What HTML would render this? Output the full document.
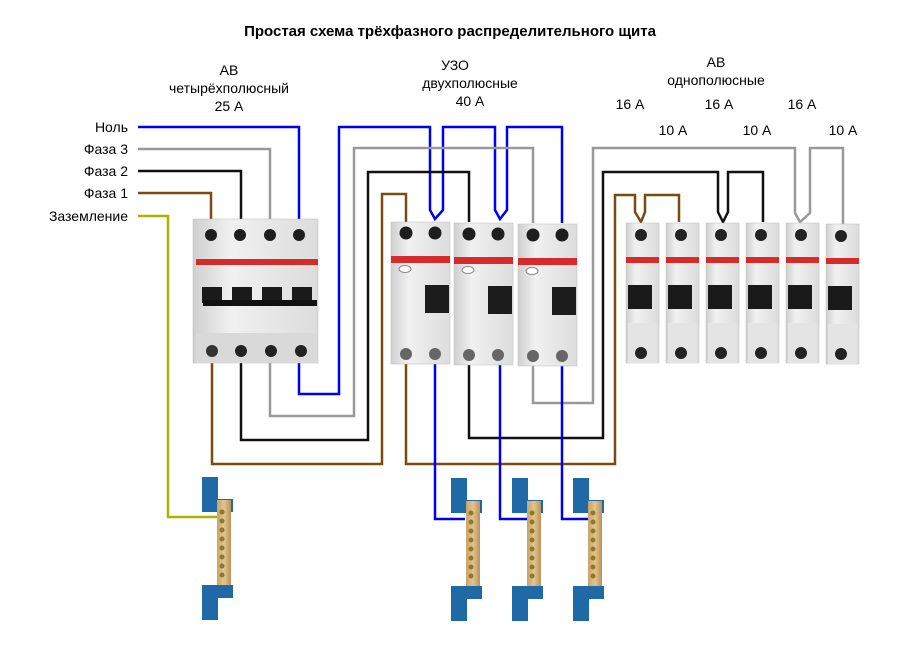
<!DOCTYPE html>
<html><head><meta charset="utf-8"><style>
html,body{margin:0;padding:0;background:#fff;}
svg{display:block;font-family:"Liberation Sans",sans-serif;}
</style></head><body>
<svg width="900" height="648" viewBox="0 0 900 648" xmlns="http://www.w3.org/2000/svg">
<defs>
<linearGradient id="g" x1="0" x2="1"><stop offset="0" stop-color="#cfcfcf"/><stop offset="0.3" stop-color="#f1f1f1"/><stop offset="1" stop-color="#dcdcdc"/></linearGradient>
<linearGradient id="br" x1="0" x2="1"><stop offset="0" stop-color="#c9a36a"/><stop offset="0.5" stop-color="#e3c48e"/><stop offset="1" stop-color="#b8935a"/></linearGradient>
<g id="mcb">
<rect x="0" y="0" width="33" height="140" fill="url(#g)" stroke="#bbb" stroke-width="0.5"/>
<circle cx="15" cy="12" r="6" fill="#222"/>
<rect x="0" y="34" width="33" height="6" fill="#d52b2b"/>
<rect x="2" y="62" width="24" height="24" fill="#1a1a1a"/>
<rect x="2" y="100" width="29" height="40" fill="#e4e4e4"/>
<circle cx="15" cy="130" r="6" fill="#222"/>
</g>
<g id="rcd">
<rect x="0" y="0" width="59" height="142" fill="url(#g)" stroke="#bbb" stroke-width="0.5"/>
<circle cx="15" cy="11" r="6.5" fill="#1e1e1e"/><circle cx="44" cy="11" r="6.5" fill="#1e1e1e"/>
<rect x="0" y="34" width="59" height="7" fill="#d52b2b"/>
<ellipse cx="14" cy="47" rx="6" ry="3.5" fill="#fff" stroke="#888"/>
<rect x="34" y="63" width="24" height="28" fill="#1c1c1c"/>
<circle cx="15" cy="132" r="6" fill="#666"/><circle cx="44" cy="132" r="6" fill="#666"/>
</g>
<g id="bus">
<rect x="0" y="0" width="16" height="35" fill="#1f6aa6"/>
<rect x="0" y="22" width="31" height="13" fill="#1f6aa6"/>
<rect x="15" y="23" width="14" height="98" fill="url(#br)"/>
<g fill="#8a7a2a">
<circle cx="20" cy="35" r="2.5"/><circle cx="20" cy="44" r="2.5"/><circle cx="20" cy="53" r="2.5"/><circle cx="20" cy="62" r="2.5"/><circle cx="20" cy="71" r="2.5"/><circle cx="20" cy="80" r="2.5"/><circle cx="20" cy="89" r="2.5"/><circle cx="20" cy="98" r="2.5"/></g>
<rect x="0" y="108" width="16" height="35" fill="#1f6aa6"/>
<rect x="0" y="108" width="31" height="13" fill="#1f6aa6"/>
</g>
</defs>

<text x="450" y="36" font-size="15" font-weight="bold" text-anchor="middle">Простая схема трёхфазного распределительного щита</text>
<g font-size="14" text-anchor="middle">
<text x="229" y="75">АВ</text><text x="229" y="93">четырёхполюсный</text><text x="229" y="111">25 А</text>
<text x="455" y="70">УЗО</text><text x="470" y="88">двухполюсные</text><text x="470" y="106">40 А</text>
<text x="716" y="67">АВ</text><text x="716" y="85">однополюсные</text>
<text x="630" y="109">16 А</text><text x="719" y="109">16 А</text><text x="802" y="109">16 А</text>
<text x="673" y="135">10 А</text><text x="757" y="135">10 А</text><text x="843" y="135">10 А</text>
</g>
<g font-size="14" text-anchor="end">
<text x="128" y="132">Ноль</text><text x="128" y="154">Фаза 3</text><text x="128" y="176">Фаза 2</text><text x="128" y="198">Фаза 1</text><text x="128" y="221">Заземление</text>
</g>

<g fill="none" stroke-width="2.5">
<polyline stroke="#0000ee" points="138,127 299,127 299,222"/>
<polyline stroke="#999" points="138,149 270,149 270,222"/>
<polyline stroke="#111" points="138,171 241,171 241,222"/>
<polyline stroke="#7a4a10" points="138,193 211,193 211,222"/>
<polyline stroke="#a8b400" points="138,216 168,216 168,517 218,517"/>

<polyline stroke="#0000ee" points="299,360 299,394 339,394 339,127 430,127 430,210 435,219 443,210 443,127 495,127 495,210 500,219 507,210 507,127 562,127 562,223"/>
<polyline stroke="#999" points="270,360 270,416 354,416 354,148 533,148 533,223"/>
<polyline stroke="#999" points="533,360 533,403 593,403 593,148 795,148 795,213 800,222 810,213 810,148 843,148 843,225"/>
<polyline stroke="#111" points="241,360 241,440 368,440 368,172 469,172 469,222"/>
<polyline stroke="#111" points="469,360 469,438 603,438 603,172 718,172 718,212 723,222 728,212 728,172 763,172 763,222"/>
<polyline stroke="#7a4a10" points="212,360 212,464 382,464 382,194 406,194 406,222"/>
<polyline stroke="#7a4a10" points="406,360 406,464 615,464 615,195 635,195 635,212 641,222 645,212 645,195 679,195 679,222"/>
<polyline stroke="#0000ee" points="435,360 435,519 465,519"/>
<polyline stroke="#0000ee" points="500,360 500,519 527,519"/>
<polyline stroke="#0000ee" points="562,360 562,519 588,519"/>
</g>

<g>
<rect x="193" y="219" width="125" height="144" fill="url(#g)" stroke="#bbb" stroke-width="0.5"/>
<circle cx="211" cy="235" r="6" fill="#1e1e1e"/><circle cx="240" cy="235" r="6" fill="#1e1e1e"/><circle cx="270" cy="235" r="6" fill="#1e1e1e"/><circle cx="299" cy="235" r="6" fill="#1e1e1e"/>
<rect x="196" y="259" width="122" height="6" fill="#d52b2b"/>
<rect x="202" y="287" width="20" height="16" fill="#1a1a1a"/><rect x="232" y="287" width="20" height="16" fill="#1a1a1a"/><rect x="262" y="287" width="20" height="16" fill="#1a1a1a"/><rect x="292" y="287" width="20" height="16" fill="#1a1a1a"/>
<rect x="203" y="300" width="114" height="6" fill="#111"/>
<rect x="196" y="333" width="120" height="30" fill="#d9d9d9"/>
<circle cx="212" cy="351" r="6" fill="#333"/><circle cx="241" cy="351" r="6" fill="#222"/><circle cx="271" cy="351" r="6" fill="#222"/><circle cx="301" cy="351" r="6" fill="#222"/>
</g>
<use href="#rcd" x="391" y="222"/><use href="#rcd" x="454" y="223"/><use href="#rcd" x="518" y="224"/>
<use href="#mcb" x="626" y="223"/><use href="#mcb" x="666" y="223"/><use href="#mcb" x="706" y="223"/><use href="#mcb" x="746" y="223"/><use href="#mcb" x="786" y="223"/><use href="#mcb" x="826" y="224"/>
<use href="#bus" x="202" y="477"/><use href="#bus" x="451" y="478"/><use href="#bus" x="512" y="478"/><use href="#bus" x="573" y="478"/>
</svg>
</body></html>
